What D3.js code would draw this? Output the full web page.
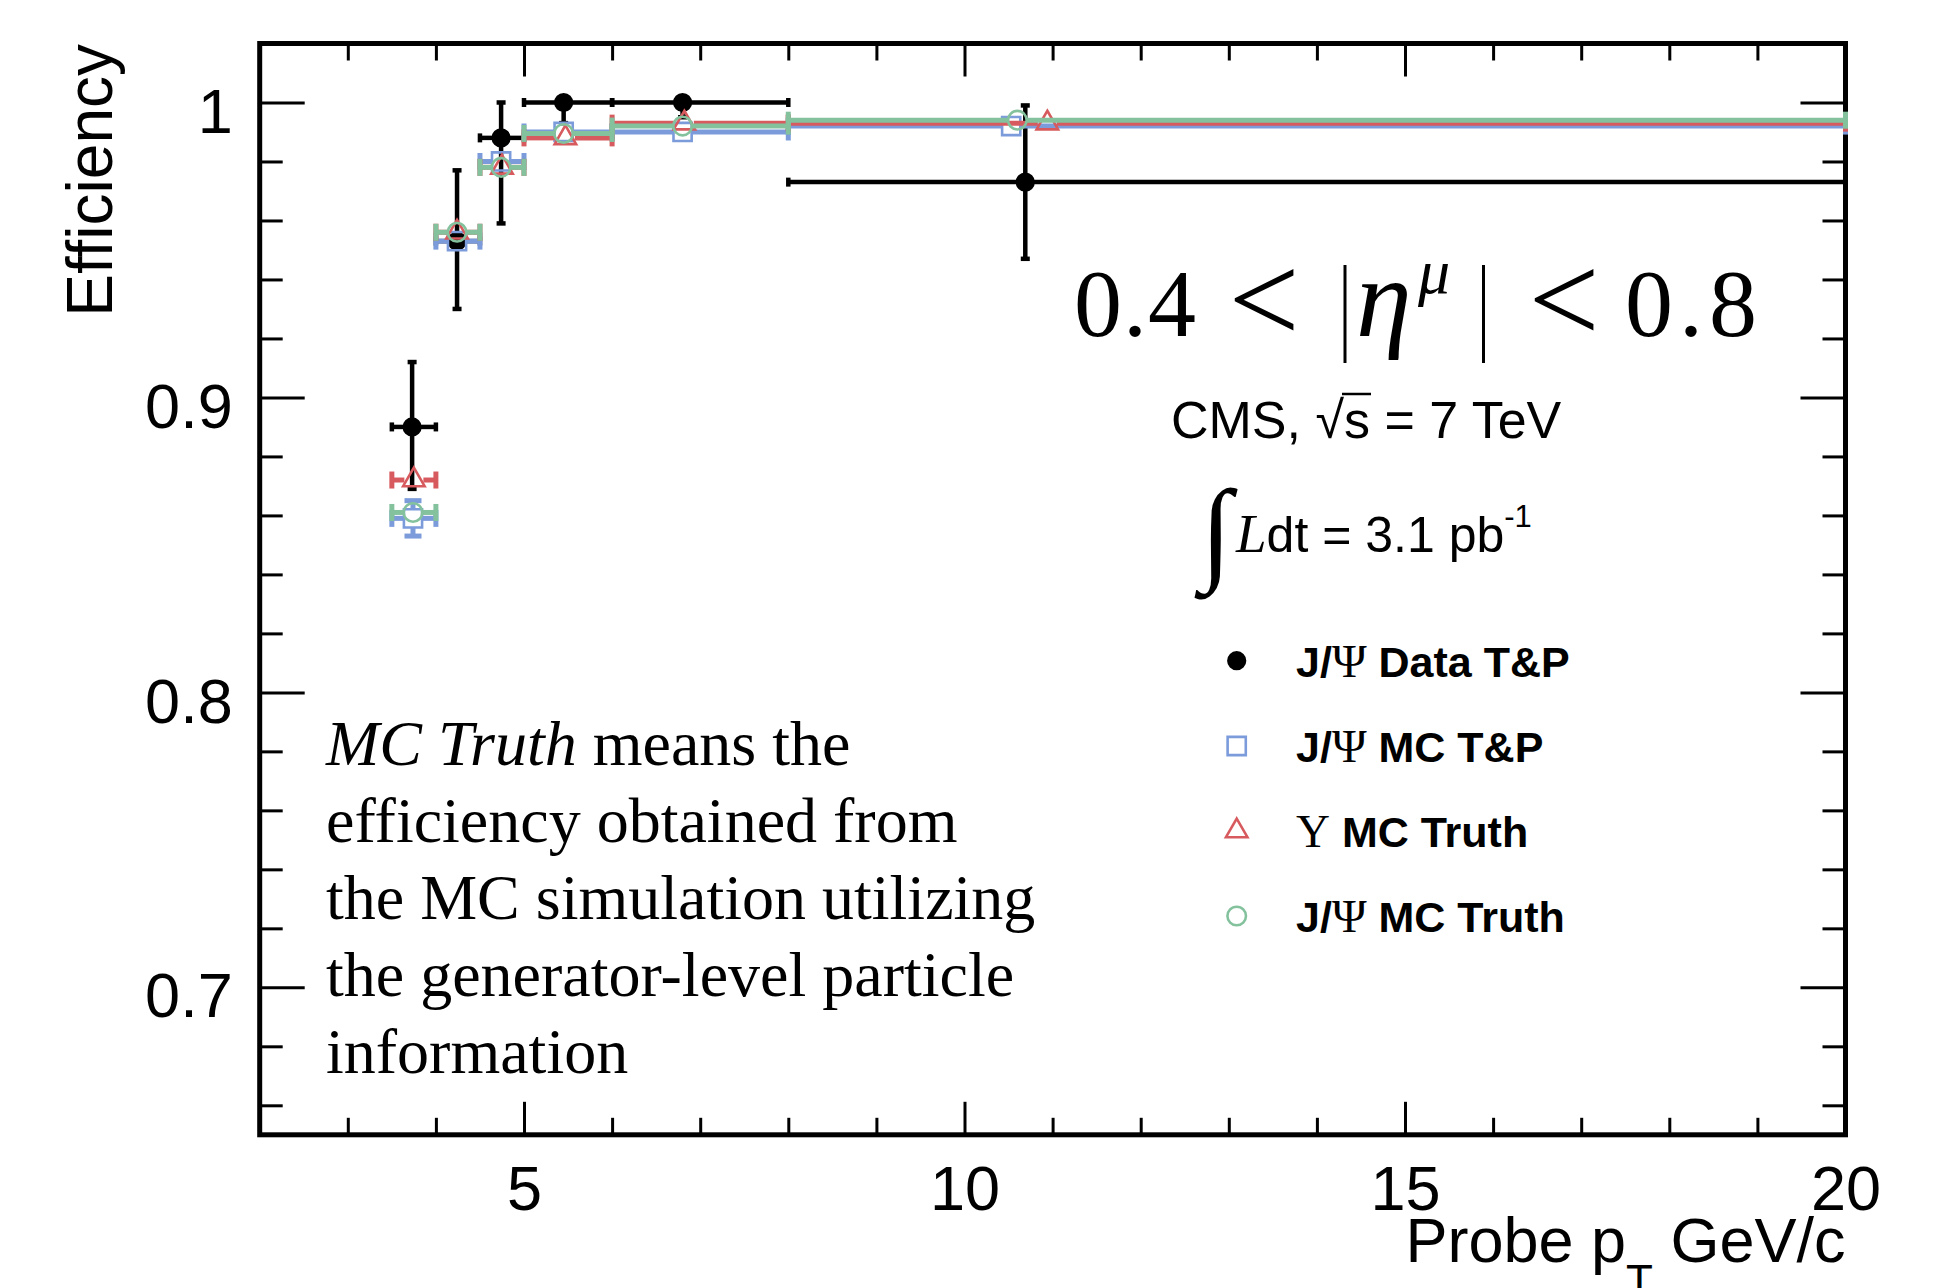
<!DOCTYPE html>
<html>
<head>
<meta charset="utf-8">
<script src="https://cdn.jsdelivr.net/npm/d3@7"></script>
<style>
  html, body { margin: 0; padding: 0; background: #fff; }
  svg { display: block; }
</style>
</head>
<body>
<svg id="chart" width="1951" height="1288"></svg>
<script>
'use strict';

// probe pT bins (GeV/c)
const binLow  = [3.5, 4.0, 4.5, 5.0, 6.0, 8.0];
const binHigh = [4.0, 4.5, 5.0, 6.0, 8.0, 20.0];

// J/psi data, tag & probe
const dataPt    = [3.73, 4.24, 4.74, 5.45, 6.80, 10.69];
const dataEff   = [0.890, 0.953, 0.988, 1.000, 1.000, 0.973];
const dataErrHi = [0.022, 0.024, 0.012, 0.000, 0.000, 0.026];
const dataErrLo = [0.021, 0.023, 0.029, 0.007, 0.005, 0.026];

// J/psi MC, tag & probe
const mcTpPt  = [3.74, 4.24, 4.74, 5.45, 6.80, 10.53];
const mcTpEff = [0.859, 0.953, 0.980, 0.990, 0.990, 0.992];
const mcTpErr = [0.006, 0.003, 0.002, 0.001, 0.001, 0.001];

// Upsilon MC truth
const upsPt  = [3.75, 4.24, 4.75, 5.47, 6.82, 10.94];
const upsEff = [0.872, 0.956, 0.978, 0.988, 0.993, 0.993];
const upsErr = [0.002, 0.002, 0.002, 0.001, 0.001, 0.001];

// J/psi MC truth
const truthPt  = [3.74, 4.24, 4.74, 5.45, 6.80, 10.60];
const truthEff = [0.861, 0.956, 0.978, 0.9895, 0.992, 0.994];
const truthErr = [0.002, 0.002, 0.002, 0.001, 0.001, 0.001];

// axis ticks
const xTicks = [5, 10, 15, 20];
const yTicks = [0.7, 0.8, 0.9, 1.0];
const xTitle = 'Probe p';
const yTitle = 'Efficiency';

// legend
const legendLabels = [
    [['J/', 'sans'], ['\u03A8', 'serif'], [' Data T&P', 'sans']],
    [['J/', 'sans'], ['\u03A8', 'serif'], [' MC T&P', 'sans']],
    [['\u03A5', 'serif'], [' MC Truth', 'sans']],
    [['J/', 'sans'], ['\u03A8', 'serif'], [' MC Truth', 'sans']]
];

// note in the lower left
const noteLines = [
    [['MC Truth', true], [' means the', false]],
    [['efficiency obtained from', false]],
    [['the MC simulation utilizing', false]],
    [['the generator-level particle', false]],
    [['information', false]]
];

const SANS = '"Liberation Sans", Arial, Helvetica, sans-serif';
const SERIF = '"Liberation Serif", "Times New Roman", serif';

const BLUE = '#7b9bdb';
const RED = '#d75b5e';
const GREEN = '#84c29e';

// build point tables
function makePoints(pt, eff, lo, hi){
    return pt.map((p, i) => ({ x: p, y: eff[i], xl: binLow[i], xh: binHigh[i], eyl: lo[i], eyh: hi[i] }));
}

const series = [
    { name: 'data', pts: makePoints(dataPt, dataEff, dataErrLo, dataErrHi), color: '#000', lw: 4.5, cap: 9, symbol: d3.symbolCircle, size: 290, fill: '#000', half: 0 },
    { name: 'mctp', pts: makePoints(mcTpPt, mcTpEff, mcTpErr, mcTpErr), color: BLUE, lw: 5, cap: 17, symbol: d3.symbolSquare, size: 330, fill: 'none', half: 9.5 },
    { name: 'ups', pts: makePoints(upsPt, upsEff, upsErr, upsErr), color: RED, lw: 5, cap: 17, symbol: d3.symbolTriangle, size: 200, fill: 'none', half: 9.5 },
    { name: 'truth', pts: makePoints(truthPt, truthEff, truthErr, truthErr), color: GREEN, lw: 5, cap: 17, symbol: d3.symbolCircle, size: 270, fill: 'none', half: 9.5 }
];

const svg = d3.select('#chart');

// frame
const frameL = 259.7, frameR = 1845.5, frameT = 43.5, frameB = 1134.8;

const x = d3.scaleLinear().domain([2, 20]).range([frameL, frameR]);
const y = d3.scaleLinear().domain([0.65, 1.02]).range([frameB, frameT]);

svg.append('rect')
    .attr('x', frameL).attr('y', frameT)
    .attr('width', frameR - frameL).attr('height', frameB - frameT)
    .attr('fill', 'none').attr('stroke', '#000').attr('stroke-width', 5);

// minor tick values
const xMinor = d3.range(3, 20).filter(v => !xTicks.includes(v));
const yMinor = d3.range(66, 102, 2).map(v => v / 100).filter(v => !yTicks.some(t => Math.abs(t - v) < 1e-6));

function styleAxis(g){
    g.select('.domain').remove();
    g.attr('font-family', SANS).attr('font-size', 63);
    g.selectAll('.tick line').attr('stroke', '#000').attr('stroke-width', 3);
    g.selectAll('.tick text').attr('fill', '#000');
}

// bottom
svg.append('g').attr('transform', `translate(0,${frameB})`)
    .call(d3.axisBottom(x).tickValues(xTicks).tickSize(-33).tickSizeOuter(0).tickPadding(30).tickFormat(d3.format('d')))
    .call(styleAxis);
svg.append('g').attr('transform', `translate(0,${frameB})`)
    .call(d3.axisBottom(x).tickValues(xMinor).tickSize(-17).tickSizeOuter(0).tickFormat(''))
    .call(styleAxis);
// top
svg.append('g').attr('transform', `translate(0,${frameT})`)
    .call(d3.axisTop(x).tickValues(xTicks).tickSize(-33).tickSizeOuter(0).tickFormat(''))
    .call(styleAxis);
svg.append('g').attr('transform', `translate(0,${frameT})`)
    .call(d3.axisTop(x).tickValues(xMinor).tickSize(-17).tickSizeOuter(0).tickFormat(''))
    .call(styleAxis);
// left
svg.append('g').attr('transform', `translate(${frameL},0)`)
    .call(d3.axisLeft(y).tickValues(yTicks).tickSize(-45).tickSizeOuter(0).tickPadding(27).tickFormat(d3.format('~g')))
    .call(styleAxis)
    .selectAll('.tick text').attr('dy', '0.47em');
svg.append('g').attr('transform', `translate(${frameL},0)`)
    .call(d3.axisLeft(y).tickValues(yMinor).tickSize(-23).tickSizeOuter(0).tickFormat(''))
    .call(styleAxis);
// right
svg.append('g').attr('transform', `translate(${frameR},0)`)
    .call(d3.axisRight(y).tickValues(yTicks).tickSize(-45).tickSizeOuter(0).tickFormat(''))
    .call(styleAxis);
svg.append('g').attr('transform', `translate(${frameR},0)`)
    .call(d3.axisRight(y).tickValues(yMinor).tickSize(-23).tickSizeOuter(0).tickFormat(''))
    .call(styleAxis);

// axis titles
const xt = svg.append('text')
    .attr('x', frameR).attr('y', 1262)
    .attr('text-anchor', 'end')
    .attr('font-family', SANS).attr('font-size', 63);
xt.append('tspan').text(xTitle);
xt.append('tspan').attr('font-size', 44).attr('dy', 34).text('T');
xt.append('tspan').attr('dy', -34).text(' GeV/c');

svg.append('text')
    .attr('transform', 'translate(112,44) rotate(-90)')
    .attr('text-anchor', 'end')
    .attr('font-family', SANS).attr('font-size', 64)
    .text(yTitle);

// error bars and markers
function drawSeries(s){
    const g = svg.append('g').attr('class', s.name);
    const line = (x1, y1, x2, y2) => g.append('line')
        .attr('x1', x1).attr('y1', y1).attr('x2', x2).attr('y2', y2)
        .attr('stroke', s.color).attr('stroke-width', s.lw);

    s.pts.forEach(d => {
        const cx = x(d.x), cy = y(d.y);
        const xl = x(d.xl), xh = x(d.xh);
        const yl = y(d.y - d.eyl), yh = y(d.y + d.eyh);
        const h = s.half;

        // horizontal bar
        if (cx - h > xl) line(xl, cy, cx - h, cy);
        if (xh > cx + h) line(cx + h, cy, xh, cy);
        line(xl, cy - s.cap / 2, xl, cy + s.cap / 2);
        line(xh, cy - s.cap / 2, xh, cy + s.cap / 2);

        // vertical bar
        if (yl > cy + h + 1) {
            line(cx, cy + h, cx, yl);
            line(cx - s.cap / 2, yl, cx + s.cap / 2, yl);
        }
        if (yh < cy - h - 1) {
            line(cx, yh, cx, cy - h);
            line(cx - s.cap / 2, yh, cx + s.cap / 2, yh);
        }
    });

    g.selectAll('path.marker')
        .data(s.pts)
        .enter()
        .append('path')
        .attr('class', 'marker')
        .attr('d', d3.symbol().type(s.symbol).size(s.size))
        .attr('transform', d => `translate(${x(d.x)},${y(d.y)})`)
        .attr('fill', s.fill)
        .attr('stroke', s.color)
        .attr('stroke-width', s.fill === 'none' ? 2.6 : 0);
}

series.forEach(drawSeries);

// eta range label
const titleY = 336;
const tg = svg.append('g').attr('font-family', SERIF).attr('fill', '#000');
tg.append('text').attr('x', 1074).attr('y', titleY).attr('font-size', 96)
    .attr('textLength', 122).attr('lengthAdjust', 'spacing').text('0.4');
tg.append('text').attr('x', 1264).attr('y', 342).attr('font-size', 126)
    .attr('text-anchor', 'middle').text('<');
tg.append('text').attr('x', 1356).attr('y', titleY).attr('font-size', 112)
    .attr('font-style', 'italic').text('\u03B7');
tg.append('text').attr('x', 1418).attr('y', 293).attr('font-size', 64)
    .attr('font-style', 'italic').text('\u03BC');
tg.append('text').attr('x', 1564).attr('y', 342).attr('font-size', 126)
    .attr('text-anchor', 'middle').text('<');
tg.append('text').attr('x', 1625).attr('y', titleY).attr('font-size', 96)
    .attr('textLength', 132).attr('lengthAdjust', 'spacing').text('0.8');
[1345, 1483.5].forEach(bx => {
    tg.append('line').attr('x1', bx).attr('x2', bx).attr('y1', 265).attr('y2', 363)
        .attr('stroke', '#000').attr('stroke-width', 3);
});

// CMS, sqrt(s)
const cms = svg.append('text')
    .attr('x', 1171).attr('y', 438)
    .attr('font-family', SANS).attr('font-size', 52);
cms.append('tspan').text('CMS, ');
cms.append('tspan').text('\u221A');
cms.append('tspan').text('s');
cms.append('tspan').text(' = 7 TeV');
{
    const node = cms.node();
    const rad = node.getExtentOfChar(5);
    const sch = node.getExtentOfChar(6);
    svg.append('line')
        .attr('x1', rad.x + rad.width - 2).attr('x2', sch.x + sch.width + 1)
        .attr('y1', rad.y + 3).attr('y2', rad.y + 3)
        .attr('stroke', '#000').attr('stroke-width', 2.5);
}

// integrated luminosity
svg.append('text')
    .attr('x', 1216).attr('y', 569)
    .attr('text-anchor', 'middle')
    .attr('font-family', SERIF).attr('font-weight', 'bold').attr('font-size', 114)
    .text('\u222B');
const lumi = svg.append('text')
    .attr('x', 1236).attr('y', 552)
    .attr('font-family', SANS).attr('font-size', 50);
lumi.append('tspan').attr('font-family', SERIF).attr('font-style', 'italic').attr('font-size', 55).text('L');
lumi.append('tspan').text('dt = 3.1 pb');
lumi.append('tspan').attr('font-size', 31).attr('dy', -25).text('-1');

// legend
const legX = 1236.7, legTextX = 1296;
const legY = [660.7, 746, 831, 916];
series.forEach((s, i) => {
    svg.append('path')
        .attr('d', d3.symbol().type(s.symbol).size(s.size))
        .attr('transform', `translate(${legX},${legY[i]})`)
        .attr('fill', s.fill)
        .attr('stroke', s.color)
        .attr('stroke-width', s.fill === 'none' ? 2.6 : 0);
    const t = svg.append('text')
        .attr('x', legTextX).attr('y', legY[i] + 16)
        .attr('font-size', 43);
    legendLabels[i].forEach(([txt, fam]) => {
        t.append('tspan')
            .attr('font-family', fam === 'serif' ? SERIF : SANS)
            .attr('font-weight', fam === 'serif' ? 'normal' : 'bold')
            .attr('font-size', fam === 'serif' ? 47 : 43)
            .text(txt);
    });
});

// note
noteLines.forEach((parts, i) => {
    const t = svg.append('text')
        .attr('x', 326).attr('y', 765 + i * 77)
        .attr('font-family', SERIF).attr('font-size', 64);
    parts.forEach(([txt, it]) => {
        t.append('tspan').attr('font-style', it ? 'italic' : 'normal').text(txt);
    });
});
</script>
</body>
</html>
